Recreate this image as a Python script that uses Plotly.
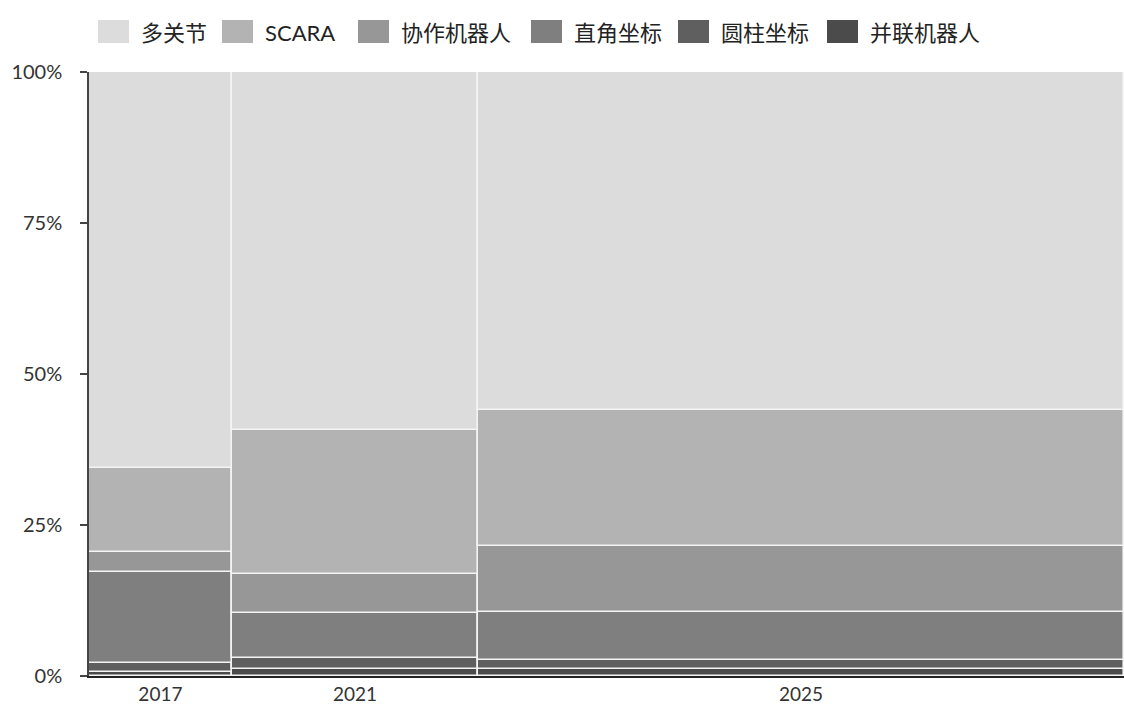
import numpy as np
import plotly.graph_objects as go

# Column labels and their relative widths (share of total market)
years = ["2017", "2021", "2025"]
year_share = [13.8, 23.8, 62.4]

# Segment shares per year (%), listed top of stack first
series_names = ["多关节", "SCARA", "协作机器人", "直角坐标", "圆柱坐标", "并联机器人"]
multi_joint = [65.6, 59.3, 56.0]
scara = [13.9, 23.8, 22.5]
collaborative = [3.2, 6.5, 10.9]
cartesian = [15.2, 7.4, 8.0]
cylindrical = [1.5, 1.9, 1.5]
parallel = [0.6, 1.1, 1.1]

series_values = [multi_joint, scara, collaborative, cartesian, cylindrical, parallel]
colors = ["#dcdcdc", "#b3b3b3", "#979797", "#7f7f7f", "#5f5f5f", "#4b4b4b"]

y_ticks = [0, 25, 50, 75, 100]

W, H = 1124, 704
ML, MR, MT, MB = 89, 0, 72, 28

widths = np.array(year_share, dtype=float)
lefts = np.concatenate([[0], np.cumsum(widths)[:-1]])
centers = lefts + widths / 2

fig = go.Figure()

# Stack from the bottom series upwards
base = np.zeros(len(years))
for name, vals, col in reversed(list(zip(series_names, series_values, colors))):
    vals = np.array(vals, dtype=float)
    fig.add_trace(go.Bar(
        x=centers, y=vals, base=base, width=widths, name=name,
        marker=dict(color=col, line=dict(color="#f4f4f4", width=1.6)),
        showlegend=False, hoverinfo="skip",
    ))
    base = base + vals

# Hand-built legend row (larger swatches than the built-in legend)
plot_w = W - ML - MR
plot_h = H - MT - MB

def px_x(px):
    return (px - ML) / plot_w

def px_y(py):
    return (H - MB - py) / plot_h

legend_x = [98, 222, 358, 531, 678, 827]
for name, col, lx in zip(series_names, colors, legend_x):
    fig.add_shape(type="rect", xref="paper", yref="paper",
                  x0=px_x(lx), x1=px_x(lx + 31), y0=px_y(20), y1=px_y(43),
                  fillcolor=col, line=dict(width=0))
    fig.add_annotation(xref="paper", yref="paper", x=px_x(lx + 41), y=px_y(32),
                       text=name, showarrow=False, xanchor="left", yanchor="middle",
                       font=dict(family="Lato, 'Noto Sans CJK SC'", size=22, color="#222"))

fig.update_layout(
    width=W, height=H,
    margin=dict(l=ML, r=MR, t=MT, b=MB, autoexpand=False),
    paper_bgcolor="white", plot_bgcolor="white",
    barmode="overlay", bargap=0,
    font=dict(family="Lato, 'Noto Sans CJK SC'", size=20, color="#333"),
    xaxis=dict(
        range=[0, float(widths.sum())], tickvals=centers, ticktext=years,
        showgrid=False, zeroline=False, showline=True, linecolor="#222", linewidth=2,
        ticks="", ticklabelstandoff=0, automargin=False, fixedrange=True,
        tickfont=dict(size=19),
    ),
    yaxis=dict(
        range=[0, 100], tickvals=y_ticks, ticktext=[f"{v}%" for v in y_ticks],
        showgrid=False, zeroline=False, showline=True, linecolor="#444", linewidth=1.5,
        ticks="outside", ticklen=7, tickcolor="#444", tickwidth=1.5,
        ticklabelstandoff=14, automargin=False, fixedrange=True,
    ),
)

fig.write_html("out.html")
